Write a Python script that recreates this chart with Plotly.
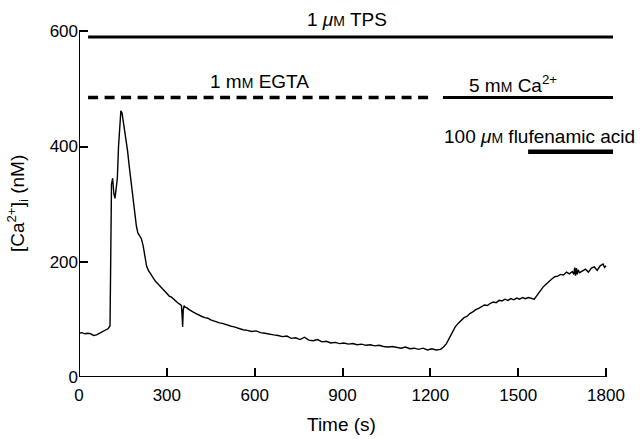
import plotly.graph_objects as go

# ---- data ----
time_s = [
    0, 10, 20, 30, 40, 50, 60, 70, 80, 90,
    100, 106, 109, 111, 115, 119, 123, 127, 131, 135,
    139, 143, 147, 151, 156, 161, 166, 171, 176, 181,
    186, 191, 196, 201, 207, 213, 219, 225, 231, 237,
    243, 249, 255, 261, 267, 273, 279, 285, 291, 297,
    303, 309, 315, 321, 327, 333, 339, 345, 350, 352,
    354, 356, 359, 363, 369, 376, 384, 392, 400, 410,
    420, 430, 440, 450, 460, 470, 480, 490, 500, 510,
    520, 530, 540, 550, 560, 575, 590, 605, 620, 635,
    650, 665, 680, 695, 710, 725, 740, 755, 770, 785,
    800, 815, 830, 845, 860, 875, 890, 905, 920, 935,
    950, 965, 980, 995, 1010, 1025, 1040, 1055, 1070, 1085,
    1100, 1115, 1130, 1145, 1160, 1175, 1190, 1205, 1220, 1235,
    1245, 1255, 1265, 1275, 1285, 1295, 1305, 1315, 1325, 1335,
    1345, 1355, 1365, 1375, 1385, 1395, 1405, 1415, 1425, 1435,
    1445, 1455, 1465, 1475, 1485, 1495, 1505, 1515, 1525, 1535,
    1545, 1555, 1565, 1575, 1585, 1595, 1605, 1615, 1625, 1635,
    1645, 1655, 1665, 1675, 1685, 1690, 1693, 1696, 1699, 1702,
    1705, 1710, 1720, 1730, 1740, 1750, 1760, 1770, 1780, 1790,
    1795, 1800,
]
ca_nM = [
    76, 77, 75, 76, 75, 72, 73, 76, 79, 81,
    84, 89, 210, 335, 345, 318, 310, 332, 345, 400,
    445, 462, 458, 445, 428, 410, 392, 368, 348, 318,
    298, 280, 262, 250, 246, 240, 228, 210, 192, 185,
    180, 176, 170, 166, 163, 159, 156, 153, 150, 146,
    143, 140, 139, 136, 134, 131, 128, 126, 124, 108,
    87, 116, 124, 121, 120, 117, 114, 112, 110, 107,
    105, 103, 102, 99, 97, 96, 94, 93, 91, 89,
    88, 87, 85, 84, 82, 81, 79, 80, 77, 76,
    74, 73, 72, 70, 71, 67, 68, 65, 69, 64,
    63, 65, 61, 62, 59, 60, 58, 59, 57, 58,
    56, 57, 55, 56, 54, 55, 53, 52, 53, 51,
    50, 52, 49, 50, 48, 50, 47, 49, 47, 48,
    52, 58, 67, 78, 87, 93, 98, 103, 105, 110,
    113, 117, 119, 122, 125, 124, 128, 130, 129, 133,
    132, 135, 133, 136, 134, 137, 135, 138, 136, 138,
    137, 135, 142, 150, 156, 161, 166, 170, 174, 175,
    178, 177, 182, 179, 183, 178, 190, 176, 189, 178,
    186, 181, 184, 187, 182, 189, 191, 185, 193, 196,
    190, 193,
]

x_ticks = [0, 300, 600, 900, 1200, 1500, 1800]
y_ticks = [0, 200, 400, 600]

# treatment periods (s)
tps_period = [31, 1824]
egta_period = [31, 1209]
ca_period = [1243, 1824]
fluf_period = [1534, 1824]

FONT = "Liberation Sans, Arial, Helvetica, sans-serif"
SC = "<span style='font-size:14px'>M</span>"  # small-cap M

fig = go.Figure()
fig.add_trace(go.Scatter(
    x=time_s, y=ca_nM, mode="lines",
    line=dict(color="black", width=1.4),
    showlegend=False, hoverinfo="skip",
))

shapes = [
    # axis lines
    dict(type="line", xref="x", yref="y", x0=0, x1=1800, y0=0, y1=0,
         line=dict(color="black", width=2)),
    dict(type="line", xref="x", yref="y", x0=0, x1=0, y0=0, y1=600,
         line=dict(color="black", width=2)),
    # treatment bars
    dict(type="line", xref="x", yref="y", x0=tps_period[0], x1=tps_period[1],
         y0=590, y1=590, line=dict(color="black", width=3)),
    dict(type="line", xref="x", yref="y", x0=egta_period[0], x1=egta_period[1],
         y0=485, y1=485, line=dict(color="black", width=3.5, dash="10px,6.5px")),
    dict(type="line", xref="x", yref="y", x0=ca_period[0], x1=ca_period[1],
         y0=485, y1=485, line=dict(color="black", width=3)),
    dict(type="line", xref="x", yref="y", x0=fluf_period[0], x1=fluf_period[1],
         y0=391, y1=391, line=dict(color="black", width=4.5)),
]

annotations = [
    dict(x=916, y=620, xref="x", xanchor="center",
         text="1 <i>μ</i>" + SC + " TPS"),
    dict(x=616, y=513, xref="x", xanchor="center",
         text="1 m" + SC + " EGTA"),
    dict(x=1484, y=508, xref="x", xanchor="center",
         text="5 m" + SC + " Ca<sup>2+</sup>"),
    dict(x=1.033, y=418, xref="paper", xanchor="right",
         text="100 <i>μ</i>" + SC + " flufenamic acid"),
    dict(x=895, y=0, yshift=-47, xref="x", xanchor="center",
         text="Time (s)"),
    dict(x=0, y=300, xshift=-62, xref="x", xanchor="center", textangle=-90,
         text="[Ca<sup>2+</sup>]<sub>i</sub> (nM)"),
]
for a in annotations:
    a.update(yref="y", showarrow=False, yanchor="middle",
             font=dict(family=FONT, size=19, color="black"))

fig.update_layout(
    width=640, height=439,
    margin=dict(l=79, r=21, t=9, b=62),
    paper_bgcolor="white", plot_bgcolor="white",
    shapes=shapes, annotations=annotations,
    font=dict(family=FONT, size=17, color="black"),
    xaxis=dict(range=[0, 1844.4], tickvals=x_ticks, ticks="inside",
               ticklen=9, tickwidth=1.5, tickcolor="black",
               showline=False, showgrid=False, zeroline=False,
               ticklabelstandoff=6, automargin=False),
    yaxis=dict(range=[0, 638.6], tickvals=y_ticks, ticks="inside",
               ticklen=9, tickwidth=1.5, tickcolor="black",
               showline=False, showgrid=False, zeroline=False,
               automargin=False),
)

# remove the browser's default 8px body margin so the figure sits at (0, 0)
fig.write_html("out.html",
               config={"displayModeBar": False},
               post_script="document.body.style.margin='0';"
                           "document.body.style.overflow='hidden';")
